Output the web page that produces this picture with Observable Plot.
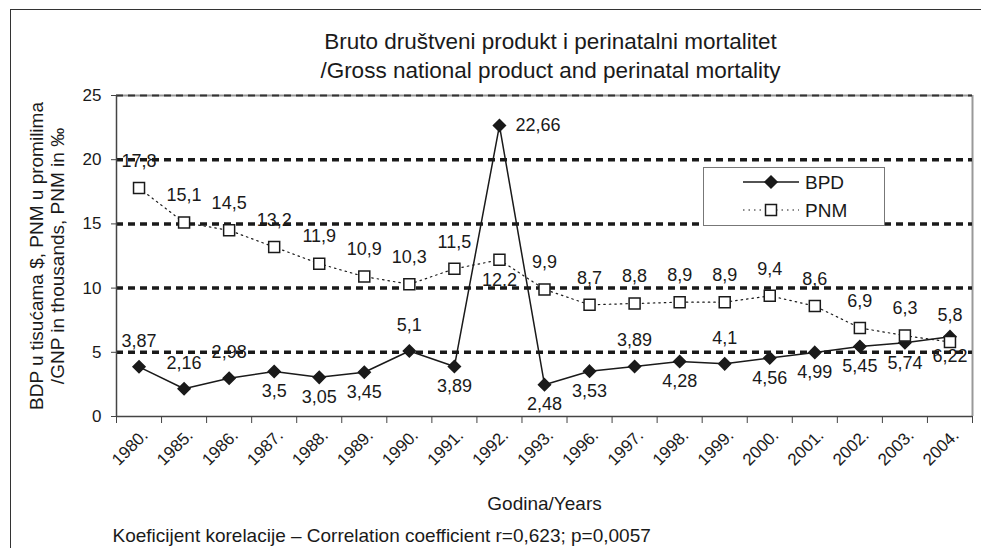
<!DOCTYPE html>
<html><head><meta charset="utf-8">
<script src="https://cdn.jsdelivr.net/npm/d3@7"></script>
<script src="https://cdn.jsdelivr.net/npm/@observablehq/plot@0.6"></script>
<style>
body{margin:0;background:#fff;}
#wrap{position:relative;width:981px;height:548px;overflow:hidden;font-family:"Liberation Sans",Arial,sans-serif;background:#fff;}
#border{position:absolute;left:10px;top:9px;width:990px;height:560px;border-top:1.5px solid #333;border-left:1.5px solid #333;}
#wrap svg.chart{position:absolute;left:0;top:0;}
#legend{position:absolute;left:703px;top:167px;width:180px;height:57px;border:1.5px solid #777;background:#fff;}
</style></head><body>
<div id="wrap"><div id="border"></div></div>
<script>
const years = ["1980.","1985.","1986.","1987.","1988.","1989.","1990.","1991.","1992.","1993.","1996.","1997.","1998.","1999.","2000.","2001.","2002.","2003.","2004."];
const bpd = [3.87,2.16,2.98,3.5,3.05,3.45,5.1,3.89,22.66,2.48,3.53,3.89,4.28,4.1,4.56,4.99,5.45,5.74,6.22];
const pnm = [17.8,15.1,14.5,13.2,11.9,10.9,10.3,11.5,12.2,9.9,8.7,8.8,8.9,8.9,9.4,8.6,6.9,6.3,5.8];
const bpdLabelPos = ["above","above","above","below","below","below","above","below","right","below","below","above","below","above","below","below","below","below","below"];
const pnmLabelPos = ["above","above","above","above","above","above","above","above","below","above","above","above","above","above","above","above","above","above","above"];
const yTicks = [0,5,10,15,20,25];
const seriesNames = ["BPD","PNM"];
const titleText = "Bruto društveni produkt i perinatalni mortalitet\n/Gross national product and perinatal mortality";
const yLabel = "BDP u tisućama $, PNM u promilima\n/GNP in thousands, PNM in ‰";
const xLabel = "Godina/Years";
const caption = "Koeficijent korelacije – Correlation coefficient r=0,623; p=0,0057";

const ink = "#1a1a1a";
const font = '"Liberation Sans", Arial, sans-serif';
const rows = years.map((y, i) => ({i, year: y, bpd: bpd[i], pnm: pnm[i], bp: bpdLabelPos[i], pp: pnmLabelPos[i]}));
const fmt = v => String(v).replace(".", ",");
const idx = d3.range(years.length);
const bounds = d3.range(years.length + 1).map(i => i - 0.5);
const gridVals = yTicks.filter(t => t > 0 && t < 25);

const chart = Plot.plot({
  width: 981, height: 548,
  marginLeft: 116, marginRight: 9, marginTop: 95, marginBottom: 132,
  style: {fontFamily: font, fontSize: "16px", color: ink, background: "transparent", overflow: "visible"},
  x: {type: "linear", domain: [-0.5, years.length - 0.5], axis: null},
  y: {domain: [0, 25], axis: null},
  marks: [
    Plot.ruleY([25], {stroke: "#999", strokeWidth: 2}),
    Plot.ruleX([years.length - 0.5], {stroke: "#999", strokeWidth: 2}),
    Plot.ruleY(gridVals, {stroke: ink, strokeWidth: 3.5, strokeDasharray: "7,5"}),
    Plot.ruleY([25], {stroke: "#333", strokeWidth: 2, strokeDasharray: "7,5"}),
    Plot.ruleX([-0.5], {stroke: "#444", strokeWidth: 1.5}),
    Plot.ruleY([0], {stroke: "#444", strokeWidth: 1.5}),
    Plot.axisY({ticks: yTicks, tickSize: 5, tickPadding: 10, fontSize: 17, label: null, stroke: "#444"}),
    Plot.axisX({ticks: bounds, tickSize: 7, tickFormat: () => "", label: null, stroke: "#444"}),
    Plot.axisX({ticks: idx, tickSize: 0, tickPadding: 16, tickFormat: i => years[i], tickRotate: -45, fontSize: 17, label: null, dx: 6}),
    Plot.line(rows, {x: "i", y: "bpd", stroke: ink, strokeWidth: 1.5}),
    Plot.dot(rows, {x: "i", y: "bpd", symbol: d3.symbolDiamond2, r: 5.4, fill: ink, stroke: ink}),
    Plot.line(rows, {x: "i", y: "pnm", stroke: ink, strokeWidth: 1.2, strokeDasharray: "1.5,4"}),
    Plot.dot(rows, {x: "i", y: "pnm", symbol: "square", r: 6.2, fill: "white", stroke: ink, strokeWidth: 1.5}),
    Plot.text(rows, {filter: d => d.bp === "above", x: "i", y: "bpd", text: d => fmt(d.bpd), dy: -26, fontSize: 18, fill: ink}),
    Plot.text(rows, {filter: d => d.bp === "below", x: "i", y: "bpd", text: d => fmt(d.bpd), dy: 20, fontSize: 18, fill: ink}),
    Plot.text(rows, {filter: d => d.bp === "right", x: "i", y: "bpd", text: d => fmt(d.bpd), dx: 16, textAnchor: "start", fontSize: 18, fill: ink}),
    Plot.text(rows, {filter: d => d.pp === "above", x: "i", y: "pnm", text: d => fmt(d.pnm), dy: -27, fontSize: 18, fill: ink}),
    Plot.text(rows, {filter: d => d.pp === "below", x: "i", y: "pnm", text: d => fmt(d.pnm), dy: 20, fontSize: 18, fill: ink}),
    Plot.text([titleText], {text: d => d, frameAnchor: "top", textAnchor: "middle", lineAnchor: "middle", dx: 6, dy: -41, fontSize: 22.5, lineHeight: 1.25, fill: ink}),
    Plot.text([yLabel], {text: d => d, frameAnchor: "left", textAnchor: "middle", lineAnchor: "middle", rotate: -90, dx: -70, fontSize: 19, lineHeight: 1.12, fill: ink}),
    Plot.text([xLabel], {text: d => d, frameAnchor: "bottom", textAnchor: "middle", lineAnchor: "middle", dy: 87, fontSize: 19, fill: ink}),
    Plot.text([caption], {text: d => d, frameAnchor: "bottom-left", textAnchor: "start", lineAnchor: "middle", dx: -4, dy: 119, fontSize: 19, fill: ink})
  ]
});
chart.classList.add("chart");
document.getElementById("wrap").appendChild(chart);

// legend
const lg = d3.select("#wrap").append("div").attr("id", "legend")
  .append("svg").attr("width", 180).attr("height", 57).style("font-family", font);
const entries = [
  {name: seriesNames[0], y: 14, dash: null, sym: d3.symbolDiamond2, size: Math.PI * 5.4 * 5.4, fill: ink, sw: 1.5},
  {name: seriesNames[1], y: 42, dash: "1.5,4", sym: d3.symbolSquare, size: Math.PI * 6.2 * 6.2, fill: "white", sw: 1.2}
];
entries.forEach(e => {
  lg.append("line").attr("x1", 39).attr("x2", 95).attr("y1", e.y).attr("y2", e.y)
    .attr("stroke", ink).attr("stroke-width", e.sw).attr("stroke-dasharray", e.dash);
  lg.append("path").attr("d", d3.symbol(e.sym, e.size)()).attr("transform", `translate(67,${e.y})`)
    .attr("fill", e.fill).attr("stroke", ink).attr("stroke-width", 1.5);
  lg.append("text").attr("x", 101).attr("y", e.y).attr("dy", "0.35em").attr("font-size", 19).attr("fill", ink).text(e.name);
});
</script>
</body></html>
